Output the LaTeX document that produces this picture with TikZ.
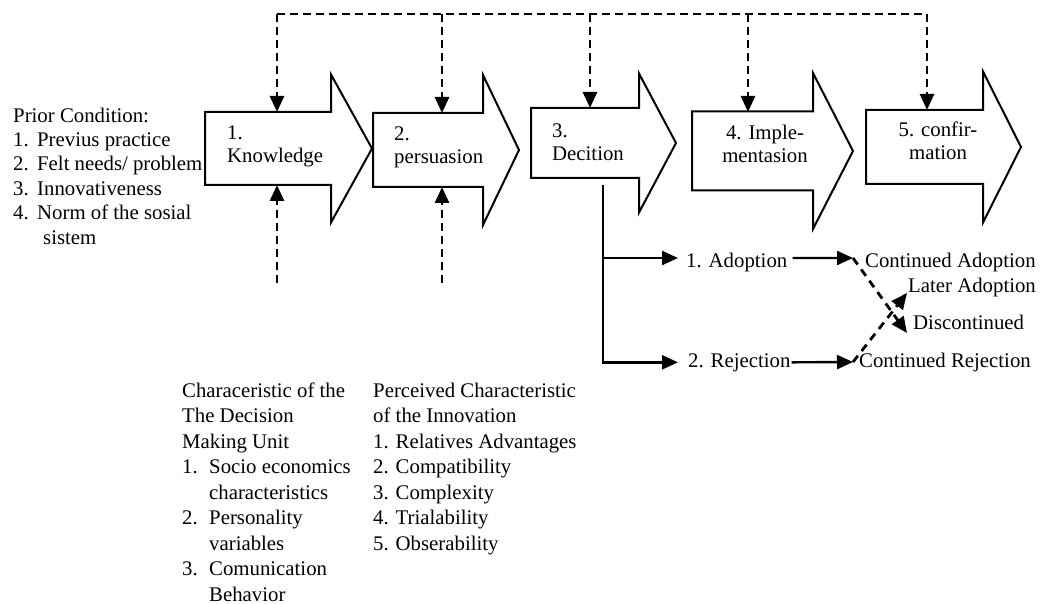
\documentclass[tikz,border=0pt]{standalone}
\usepackage{fontspec}
\setmainfont{Liberation Serif}
\usetikzlibrary{arrows.meta}

% block arrow: left x, head base x, tip x, centre y, body half height, head half height
\newcommand{\stagearrow}[6]{%
  \draw[stageline] (#1,{#4-#5}) -- (#2,{#4-#5}) -- (#2,{#4-#6}) -- (#3,#4)
    -- (#2,{#4+#6}) -- (#2,{#4+#5}) -- (#1,{#4+#5}) -- cycle;}

\begin{document}
\begin{tikzpicture}[x=1pt,y=-1pt,
  stageline/.style={draw=black, line width=2pt, fill=white, line join=miter},
  tip/.style={-{Triangle[length=16pt,width=14pt]}},
  solidconn/.style={line width=2.4pt, tip},
  dashconn/.style={line width=2.8pt, dash pattern=on 8pt off 5pt, tip},
  dashbar/.style={line width=2.8pt, dash pattern=on 8pt off 5pt},
  txt/.style={inner sep=0pt, font=\fontsize{20.8}{23}\selectfont},
  blocktxt/.style={inner sep=0pt, anchor=north west, align=left},
]
\useasboundingbox (0,0) rectangle (1045,604);

% prior conditions
\node[blocktxt, font=\fontsize{20.8}{24.4}\selectfont] (prior) at (13,104.9)
  {\strut Prior Condition:\\
   \makebox[24pt][l]{1.}Previus practice\\
   \makebox[24pt][l]{2.}Felt needs/ problem\\
   \makebox[24pt][l]{3.}Innovativeness\\
   \makebox[24pt][l]{4.}Norm of the sosial\\
   \hspace*{30pt}sistem};

% the five stages
\stagearrow{205}{331}{372}{148.5}{36.5}{74}
\stagearrow{373}{483}{519}{150}{37}{75}
\stagearrow{531}{639}{676}{143}{35}{69.5}
\stagearrow{692}{813}{853}{151}{39.5}{78}
\stagearrow{866}{983}{1021}{147}{37}{75.5}

\node[txt, align=left, anchor=north west] (s1) at (227,122.9) {\strut 1.\\Knowledge};
\node[txt, align=left, anchor=north west] (s2) at (394,123.9) {\strut 2.\\persuasion};
\node[txt, align=left, anchor=north west] (s3) at (552,120.9) {\strut 3.\\Decition};
\node[txt, align=center, anchor=north] (s4) at (765,122.9) {\strut 4. Imple-\\mentasion};
\node[txt, align=center, anchor=north] (s5) at (938,119.9) {\strut 5. confir-\\mation};

% attachment points on the stages
\coordinate (s1-top) at (277,112);
\coordinate (s2-top) at (442,113);
\coordinate (s3-top) at (590,108);
\coordinate (s4-top) at (748,112);
\coordinate (s5-top) at (927,110);
\coordinate (s1-bot) at (277,185);
\coordinate (s2-bot) at (442,187);
\coordinate (s1-src) at (277,283);
\coordinate (s2-src) at (442,283);
\coordinate (bar-l) at (277,14);
\coordinate (bar-r) at (927,14);

% feedback bar over all stages
\draw[dashbar] (bar-l) -- (bar-r);
\foreach \s in {s1,s2,s3,s4,s5}
  \draw[dashconn] (\s-top |- bar-l) -- (\s-top);

% influences from below
\draw[dashconn] (s1-src) -- (s1-bot);
\draw[dashconn] (s2-src) -- (s2-bot);

% characteristics
\node[blocktxt, font=\fontsize{20.8}{25.5}\selectfont] (unit) at (182,379.15)
  {\strut Characeristic of the\\
   The Decision\\
   Making Unit\\
   \makebox[27pt][l]{1.}Socio economics\\
   \hspace*{27pt}characteristics\\
   \makebox[27pt][l]{2.}Personality\\
   \hspace*{27pt}variables\\
   \makebox[27pt][l]{3.}Comunication\\
   \hspace*{27pt}Behavior};
\node[blocktxt, font=\fontsize{20.8}{25.5}\selectfont] (innov) at (373,379.15)
  {\strut Perceived Characteristic\\
   of the Innovation\\
   1. Relatives Advantages\\
   2. Compatibility\\
   3. Complexity\\
   4. Trialability\\
   5. Obserability};

% decision outcomes
\coordinate (dec-root) at (603,185);
\node[txt, anchor=base west] (adopt) at (686,268) {1. Adoption};
\node[txt, anchor=base west] (reject) at (688,367) {2. Rejection};
\node[txt, anchor=base west] (contA) at (865,268) {Continued Adoption};
\node[txt, anchor=base west] (later) at (908,293) {Later Adoption};
\node[txt, anchor=base west] (disc) at (913,330) {Discontinued};
\node[txt, anchor=base west] (contR) at (859,367) {Continued Rejection};

\coordinate (ca-in) at (853,258);
\coordinate (cr-in) at (853,362);
\coordinate (disc-in) at (907,333);
\coordinate (later-in) at (907,293);

\draw[solidconn, shorten >=8pt] (dec-root) |- ([yshift=5pt]adopt.west);
\draw[solidconn, shorten >=10pt] (dec-root) |- (reject.west);
\draw[solidconn, shorten <=5pt] ([yshift=5pt]adopt.east) -- (ca-in);
\draw[solidconn, shorten <=1pt] (reject.east) -- (cr-in);
\draw[dashconn, dash pattern=on 8pt off 6pt] (ca-in) -- (disc-in);
\draw[dashconn, dash pattern=on 8pt off 6pt] (cr-in) -- (later-in);
\end{tikzpicture}
\end{document}
